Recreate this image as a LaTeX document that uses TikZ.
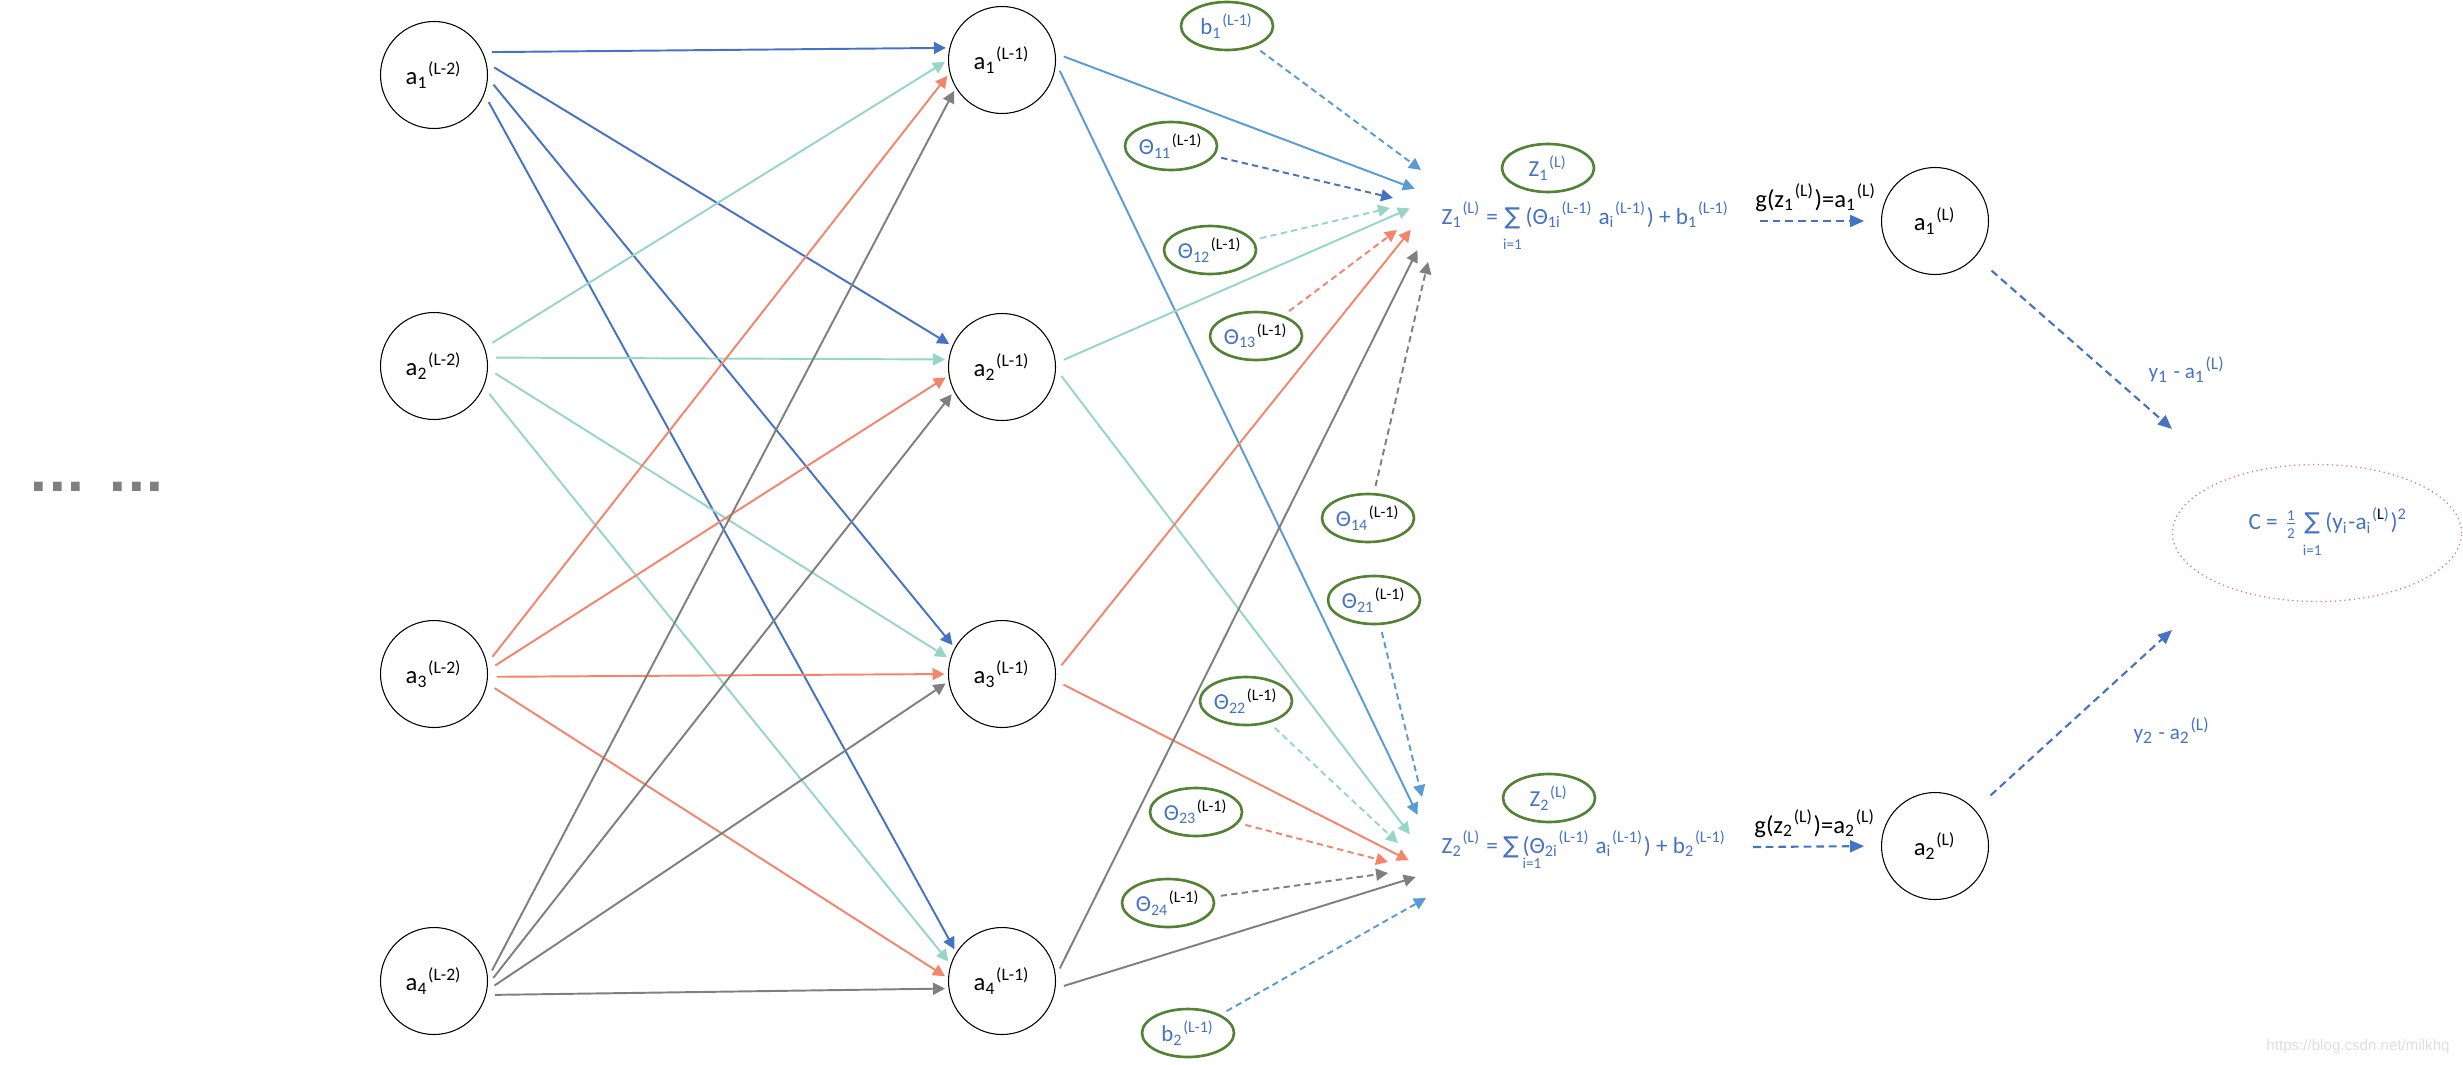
\documentclass[tikz,border=0pt]{standalone}
\usepackage{fontspec}
\setmainfont{Carlito}
\newfontfamily\dejavu{DejaVu Sans}
\newfontfamily\markfont{Liberation Sans}
\usepackage{tikz}
\usetikzlibrary{positioning,arrows.meta,shapes.geometric}

\definecolor{inkblue}{HTML}{4472C4}
\definecolor{skyblue}{HTML}{5B9BD5}
\definecolor{mint}{HTML}{96D6C4}
\definecolor{salmon}{HTML}{F4846A}
\definecolor{slate}{HTML}{7F7F7F}
\definecolor{leaf}{HTML}{548235}
\definecolor{rose}{HTML}{F26A6A}

\newcommand{\nrn}[3]{#1\textsubscript{#2}\textsuperscript{(#3)}}
\newcommand{\wlabel}[1]{Θ\textsubscript{#1}\textcolor{black}{\textsuperscript{(L-1)}}}
\newcommand{\tinyidx}{\fontsize{4.3}{5}\selectfont}
\newcommand{\sumlow}[1]{\ensuremath{\mathop{\hbox{\dejavu ∑}}\limits_{\hbox{\tinyidx #1}}}}

\begin{document}
\begin{tikzpicture}[
        neuron/.style={circle, draw, line width=0.3pt, minimum size=1.07cm, inner sep=0pt, font=\fontsize{7}{8}\selectfont},
        param/.style={ellipse, draw=leaf, line width=0.75pt, minimum width=0.92cm, minimum height=0.48cm, inner sep=0pt, text=inkblue, font=\fontsize{6.5}{7}\selectfont},
        link/.style={line width=0.55pt, -{Triangle[length=3.4pt,width=3.4pt]}, shorten <=2.5pt, shorten >=1pt},
        dlink/.style={line width=0.55pt, dash pattern=on 1.8pt off 1.2pt, -{Triangle[length=3.4pt,width=3.4pt]}, shorten <=2pt},
        flow/.style={line width=0.6pt, inkblue, dash pattern=on 2.2pt off 1.4pt, -{Triangle[length=4pt,width=3.4pt]}}
    ]
        \useasboundingbox (0,0) rectangle (24.63,10.64);

        \node[text=slate, font=\dejavu\bfseries\fontsize{14}{16}\selectfont] (dots) at (0.97, 5.77) {... ...};

        % layer L-2
        \node[neuron] (s1) at (4.34, 9.89) {\nrn{a}{1}{L-2}};
        \node[neuron] (s2) at (4.34, 6.98) {\nrn{a}{2}{L-2}};
        \node[neuron] (s3) at (4.34, 3.90) {\nrn{a}{3}{L-2}};
        \node[neuron] (s4) at (4.34, 0.83) {\nrn{a}{4}{L-2}};

        % layer L-1
        \node[neuron] (h1) at (10.02, 10.04) {\nrn{a}{1}{L-1}};
        \node[neuron] (h2) at (10.02, 6.97) {\nrn{a}{2}{L-1}};
        \node[neuron] (h3) at (10.02, 3.90) {\nrn{a}{3}{L-1}};
        \node[neuron] (h4) at (10.02, 0.83) {\nrn{a}{4}{L-1}};

        % layer L
        \node[neuron] (o1) at (19.35, 8.43) {\nrn{a}{1}{L}};
        \node[neuron] (o2) at (19.35, 2.18) {\nrn{a}{2}{L}};

        \node[ellipse, draw=rose, line width=0.35pt, densely dotted, minimum width=2.88cm, minimum height=1.37cm, text=inkblue, font=\fontsize{6.6}{7}\selectfont] (cost) at (23.17, 5.31)
            {\hspace{0.22cm}C = $\frac{\hbox{\tinyidx 1}}{\hbox{\tinyidx 2}}$\,\sumlow{i=1}\,(y\textsubscript{i}-a\textsubscript{i}\textsuperscript{(\textcolor{black}{L})})\textsuperscript{2}};

        % weights and biases
        \node[param] (b1) at (12.27, 10.38) {b\textsubscript{1}\textsuperscript{(L-1)}};
        \node[param] (t11) at (11.71, 9.18) {\wlabel{11}};
        \node[param] (t12) at (12.10, 8.14) {\wlabel{12}};
        \node[param] (t13) at (12.56, 7.28) {\wlabel{13}};
        \node[param] (t14) at (13.68, 5.46) {\wlabel{14}};
        \node[param] (t21) at (13.74, 4.64) {\wlabel{21}};
        \node[param] (t22) at (12.46, 3.63) {\wlabel{22}};
        \node[param] (t23) at (11.96, 2.52) {\wlabel{23}};
        \node[param] (t24) at (11.68, 1.61) {\wlabel{24}};
        \node[param] (b2) at (11.88, 0.31) {b\textsubscript{2}\textsuperscript{(L-1)}};
        \node[param] (z1) at (15.48, 8.96) {Z\textsubscript{1}\textsuperscript{(L)}};
        \node[param] (z2) at (15.49, 2.66) {Z\textsubscript{2}\textsuperscript{(L)}};

        % weighted sums
        \node[anchor=base west, inner sep=0pt, text=inkblue, font=\fontsize{6.6}{7}\selectfont] (f1) at (14.41, 8.40)
            {Z\textsubscript{1}\textsuperscript{(L)} = \sumlow{i=1}\,(Θ\textsubscript{1i}\textsuperscript{(L-1)} a\textsubscript{i}\textsuperscript{(L-1)}) + b\textsubscript{1}\textsuperscript{(L-1)}};
        \node[anchor=base west, inner sep=0pt, text=inkblue, font=\fontsize{6.6}{7}\selectfont] (f2) at (14.41, 2.11)
            {Z\textsubscript{2}\textsuperscript{(L)} = {\dejavu ∑}\,\rlap{\raisebox{-4.5pt}{\tinyidx i=1}}(Θ\textsubscript{2i}\textsuperscript{(L-1)} a\textsubscript{i}\textsuperscript{(L-1)}) + b\textsubscript{2}\textsuperscript{(L-1)}};

        \node[anchor=base, font=\fontsize{7}{8}\selectfont] (g1) at (18.16, 8.57) {g(z\textsubscript{1}\textsuperscript{(L)})=a\textsubscript{1}\textsuperscript{(L)}};
        \node[anchor=base, font=\fontsize{7}{8}\selectfont] (g2) at (18.15, 2.31) {g(z\textsubscript{2}\textsuperscript{(L)})=a\textsubscript{2}\textsuperscript{(L)}};
        \node[anchor=base, text=inkblue, font=\fontsize{6}{7}\selectfont] (e1) at (21.87, 6.86) {y\textsubscript{1} - a\textsubscript{1}\textsuperscript{(L)}};
        \node[anchor=base, text=inkblue, font=\fontsize{6}{7}\selectfont] (e2) at (21.72, 3.25) {y\textsubscript{2} - a\textsubscript{2}\textsuperscript{(L)}};

        \node[text=black!13, font=\markfont\fontsize{4.3}{5}\selectfont] (mark) at (23.58, 0.17) {https://blog.csdn.net/milkhq};

        % arrow tips near the sums
        \coordinate (tipb1) at (14.21, 8.94);
        \coordinate (tip11) at (13.93, 8.66);
        \coordinate (tip12) at (13.90, 8.56);
        \coordinate (tip13) at (13.97, 8.34);
        \coordinate (tip14) at (14.28, 8.02);
        \coordinate (tip21) at (14.22, 2.67);
        \coordinate (tip22) at (13.98, 2.21);
        \coordinate (tip23) at (13.88, 2.02);
        \coordinate (tip24) at (13.88, 1.91);
        \coordinate (tipb2) at (14.26, 1.66);
        \coordinate (tiph1a) at (14.18, 8.74);
        \coordinate (tiph2a) at (14.13, 8.57);
        \coordinate (tiph3a) at (14.13, 8.37);
        \coordinate (tiph4a) at (14.19, 8.17);
        \coordinate (tiph1b) at (14.19, 2.46);
        \coordinate (tiph2b) at (14.12, 2.27);
        \coordinate (tiph3b) at (14.12, 2.02);
        \coordinate (tiph4b) at (14.19, 1.88);
        \coordinate (gin1) at (17.60, 8.43);
        \coordinate (gin2) at (17.53, 2.17);
        \coordinate (cin1) at (21.72, 6.35);
        \coordinate (cin2) at (21.72, 4.34);

        % L-2 to L-1
        \draw[link, inkblue] (s1.25) -- (h1.167);
        \draw[link, inkblue] (s1.13) -- (h2.157);
        \draw[link, inkblue] (s1.-3) -- (h3.151);
        \draw[link, inkblue] (s1.-21) -- (h4.148);
        \draw[link, mint] (s2.20) -- (h1.180);
        \draw[link, mint] (s2.9) -- (h2.172);
        \draw[link, mint] (s2.-3) -- (h3.164);
        \draw[link, mint] (s2.-23) -- (h4.162);
        \draw[link, salmon] (s3.11) -- (h1.194);
        \draw[link, salmon] (s3.4) -- (h2.189);
        \draw[link, salmon] (s3.-3) -- (h3.180);
        \draw[link, salmon] (s3.-10) -- (h4.177);
        \draw[link, slate] (s4.3) -- (h1.211);
        \draw[link, slate] (s4.-4) -- (h2.207);
        \draw[link, slate] (s4.-10) -- (h3.188);
        \draw[link, slate] (s4.-15) -- (h4.188);

        % L-1 to the sums
        \draw[link, skyblue] (h1.7) -- (tiph1a);
        \draw[link, skyblue] (h1.-3) -- (tiph1b);
        \draw[link, mint] (h2.4) -- (tiph2a);
        \draw[link, mint] (h2.-2) -- (tiph2b);
        \draw[link, salmon] (h3.2) -- (tiph3a);
        \draw[link, salmon] (h3.-7) -- (tiph3b);
        \draw[link, slate] (h4.5) -- (tiph4a);
        \draw[link, slate] (h4.-8) -- (tiph4b);

        \draw[dlink, skyblue] (b1) -- (tipb1);
        \draw[dlink, inkblue] (t11) -- (tip11);
        \draw[dlink, mint] (t12) -- (tip12);
        \draw[dlink, salmon] (t13) -- (tip13);
        \draw[dlink, slate] (t14) -- (tip14);
        \draw[dlink, skyblue] (t21) -- (tip21);
        \draw[dlink, mint] (t22) -- (tip22);
        \draw[dlink, salmon] (t23) -- (tip23);
        \draw[dlink, slate] (t24) -- (tip24);
        \draw[dlink, skyblue] (b2) -- (tipb2);

        % activation and cost
        \draw[flow, shorten >=4.8pt] (gin1) -- (o1.west);
        \draw[flow, shorten >=4.8pt] (gin2) -- (o2.west);
        \draw[flow, shorten <=6pt] (o1) -- (cin1);
        \draw[flow, shorten <=6pt] (o2) -- (cin2);
    \end{tikzpicture}
\end{document}
